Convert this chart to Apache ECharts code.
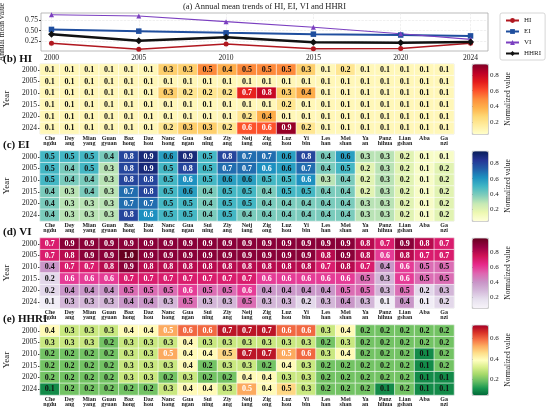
<!DOCTYPE html>
<html>
<head>
<meta charset="utf-8">
<script src="https://cdn.jsdelivr.net/npm/echarts@6/dist/echarts.min.js"></script>
<style>
  html, body { margin: 0; padding: 0; background: #fff; }
  #chart { width: 550px; height: 416px; }
</style>
</head>
<body>
<div id="chart"></div>
<script>
// ---- data ----
const years = ['2000', '2005', '2010', '2015', '2020', '2024'];
const yearNums = [2000, 2005, 2010, 2015, 2020, 2024];
const cities = ['Che\nngdu', 'Dey\nang', 'Mian\nyang', 'Guan\ngyuan', 'Baz\nhong', 'Daz\nhou',
    'Nanc\nhong', 'Gua\nngan', 'Sui\nning', 'Ziy\nang', 'Neij\niang', 'Zig\nong', 'Luz\nhou',
    'Yi\nbin', 'Les\nhan', 'Mei\nshan', 'Ya\nan', 'Panz\nhihua', 'Lian\ngshan', 'Aba', 'Ga\nnzi'];

// (a) annual means
const meanHI = [0.21, 0.07, 0.19, 0.08, 0.09, 0.21];
const meanEI = [0.53, 0.49, 0.45, 0.42, 0.40, 0.38];
const meanVI = [0.87, 0.84, 0.71, 0.58, 0.43, 0.30];
const meanHHRI = [0.42, 0.27, 0.35, 0.23, 0.22, 0.24];
const lineYTicks = [0.25, 0.5, 0.75];

// (b)-(e) one row per year, one value per city
const hiRows = [
    [0.1, 0.1, 0.1, 0.1, 0.1, 0.1, 0.3, 0.3, 0.5, 0.4, 0.5, 0.5, 0.5, 0.3, 0.1, 0.2, 0.1, 0.1, 0.1, 0.1, 0.1],
    [0.1, 0.1, 0.1, 0.1, 0.1, 0.1, 0.1, 0.1, 0.1, 0.1, 0.1, 0.1, 0.1, 0.1, 0.1, 0.1, 0.1, 0.1, 0.1, 0.1, 0.1],
    [0.1, 0.1, 0.1, 0.1, 0.1, 0.1, 0.3, 0.2, 0.2, 0.2, 0.7, 0.8, 0.3, 0.4, 0.1, 0.1, 0.1, 0.1, 0.1, 0.1, 0.1],
    [0.1, 0.1, 0.1, 0.1, 0.1, 0.1, 0.1, 0.1, 0.1, 0.1, 0.1, 0.1, 0.2, 0.1, 0.1, 0.1, 0.1, 0.1, 0.1, 0.1, 0.1],
    [0.1, 0.1, 0.1, 0.1, 0.1, 0.1, 0.1, 0.1, 0.1, 0.1, 0.2, 0.4, 0.1, 0.1, 0.1, 0.1, 0.1, 0.1, 0.1, 0.1, 0.1],
    [0.1, 0.1, 0.1, 0.1, 0.1, 0.1, 0.2, 0.3, 0.3, 0.2, 0.6, 0.6, 0.9, 0.2, 0.1, 0.1, 0.1, 0.1, 0.1, 0.1, 0.1]
];
const eiRows = [
    [0.5, 0.5, 0.5, 0.4, 0.8, 0.9, 0.58, 0.9, 0.5, 0.8, 0.7, 0.7, 0.58, 0.8, 0.4, 0.58, 0.3, 0.3, 0.2, 0.1, 0.1],
    [0.5, 0.4, 0.5, 0.3, 0.8, 0.9, 0.5, 0.8, 0.5, 0.7, 0.7, 0.62, 0.58, 0.7, 0.4, 0.5, 0.2, 0.3, 0.2, 0.1, 0.2],
    [0.5, 0.4, 0.4, 0.3, 0.8, 0.8, 0.5, 0.62, 0.5, 0.58, 0.58, 0.5, 0.5, 0.62, 0.3, 0.4, 0.2, 0.3, 0.2, 0.1, 0.2],
    [0.4, 0.3, 0.4, 0.3, 0.7, 0.8, 0.5, 0.58, 0.4, 0.5, 0.5, 0.4, 0.5, 0.5, 0.4, 0.4, 0.2, 0.3, 0.2, 0.1, 0.2],
    [0.4, 0.3, 0.3, 0.3, 0.7, 0.7, 0.5, 0.5, 0.4, 0.5, 0.5, 0.4, 0.4, 0.4, 0.4, 0.4, 0.3, 0.3, 0.2, 0.1, 0.2],
    [0.4, 0.3, 0.3, 0.3, 0.8, 0.62, 0.5, 0.5, 0.4, 0.5, 0.4, 0.4, 0.4, 0.4, 0.4, 0.4, 0.3, 0.3, 0.2, 0.1, 0.2]
];
const viRows = [
    [0.7, 0.9, 0.9, 0.9, 0.9, 0.9, 0.9, 0.9, 0.9, 0.9, 0.9, 0.9, 0.9, 0.9, 0.9, 0.9, 0.8, 0.7, 0.9, 0.8, 0.7],
    [0.7, 0.8, 0.9, 0.9, 1.0, 0.9, 0.9, 0.9, 0.9, 0.9, 0.9, 0.9, 0.9, 0.9, 0.8, 0.9, 0.8, 0.6, 0.8, 0.7, 0.7],
    [0.4, 0.7, 0.7, 0.8, 0.9, 0.8, 0.8, 0.8, 0.8, 0.8, 0.8, 0.8, 0.8, 0.8, 0.7, 0.8, 0.7, 0.4, 0.6, 0.5, 0.5],
    [0.2, 0.6, 0.6, 0.6, 0.7, 0.7, 0.7, 0.7, 0.7, 0.7, 0.7, 0.6, 0.6, 0.6, 0.6, 0.6, 0.5, 0.3, 0.6, 0.5, 0.5],
    [0.2, 0.4, 0.4, 0.4, 0.5, 0.5, 0.5, 0.6, 0.5, 0.5, 0.6, 0.4, 0.4, 0.4, 0.4, 0.5, 0.5, 0.3, 0.5, 0.2, 0.3],
    [0.1, 0.3, 0.3, 0.3, 0.4, 0.4, 0.3, 0.5, 0.3, 0.3, 0.5, 0.3, 0.3, 0.2, 0.3, 0.4, 0.3, 0.1, 0.4, 0.1, 0.2]
];
const hhriRows = [
    [0.4, 0.3, 0.3, 0.3, 0.4, 0.4, 0.53, 0.6, 0.6, 0.7, 0.7, 0.7, 0.6, 0.6, 0.3, 0.4, 0.2, 0.2, 0.2, 0.2, 0.2],
    [0.3, 0.3, 0.3, 0.2, 0.3, 0.3, 0.3, 0.4, 0.3, 0.3, 0.3, 0.3, 0.3, 0.3, 0.2, 0.3, 0.2, 0.2, 0.2, 0.2, 0.2],
    [0.2, 0.2, 0.2, 0.2, 0.3, 0.3, 0.53, 0.4, 0.4, 0.47, 0.7, 0.7, 0.53, 0.6, 0.3, 0.4, 0.2, 0.2, 0.2, 0.1, 0.2],
    [0.2, 0.2, 0.2, 0.2, 0.3, 0.3, 0.3, 0.4, 0.2, 0.3, 0.3, 0.2, 0.4, 0.3, 0.2, 0.2, 0.2, 0.2, 0.2, 0.1, 0.2],
    [0.2, 0.2, 0.2, 0.2, 0.3, 0.3, 0.2, 0.3, 0.2, 0.2, 0.4, 0.4, 0.3, 0.3, 0.2, 0.2, 0.2, 0.2, 0.2, 0.1, 0.1],
    [0.1, 0.2, 0.2, 0.2, 0.2, 0.2, 0.3, 0.4, 0.4, 0.3, 0.53, 0.4, 0.47, 0.3, 0.2, 0.2, 0.2, 0.1, 0.2, 0.1, 0.1]
];
const cbTicks = [0.2, 0.4, 0.6, 0.8];
const cbTicksHHRI = [0.2, 0.4, 0.6];

// ---- styling ----
const serif = '"Liberation Serif", "Times New Roman", serif';

const YlOrRd = ['#ffffcc', '#ffeda0', '#fed976', '#feb24c', '#fd8d3c', '#fc4e2a', '#e31a1c', '#bd0026', '#800026'];
const YlGnBu = ['#ffffd9', '#edf8b1', '#c7e9b4', '#7fcdbb', '#41b6c4', '#1d91c0', '#225ea8', '#253494', '#081d58'];
const PuRd = ['#f7f4f9', '#e7e1ef', '#d4b9da', '#c994c7', '#df65b0', '#e7298a', '#ce1256', '#980043', '#67001f'];
const RdYlGn_r = ['#006837', '#1a9850', '#66bd63', '#a6d96a', '#d9ef8b', '#ffffbf', '#fee08b', '#fdae61', '#f46d43', '#d73027', '#a50026'];

const lines = [
    {name: 'HI', data: meanHI, color: '#b0171f', symbol: 'circle', size: 5, width: 1.5},
    {name: 'EI', data: meanEI, color: '#1f4e9e', symbol: 'rect', size: 5.5, width: 2},
    {name: 'VI', data: meanVI, color: '#7b3fc0', symbol: 'triangle', size: 5, width: 1.2},
    {name: 'HHRI', data: meanHHRI, color: '#111111', symbol: 'diamond', size: 7, width: 2.5}
];

const panels = [
    {title: '(b) HI', rows: hiRows, cmap: YlOrRd, min: 0.05, max: 0.94, ticks: cbTicks, white: 0.55, top: 64, titleY: 59},
    {title: '(c) EI', rows: eiRows, cmap: YlGnBu, min: 0.05, max: 0.96, ticks: cbTicks, white: 0.6, top: 151, titleY: 145},
    {title: '(d) VI', rows: viRows, cmap: PuRd, min: 0.06, max: 0.98, ticks: cbTicks, white: 0.55, top: 238, titleY: 232},
    {title: '(e) HHRI', rows: hhriRows, cmap: RdYlGn_r, min: 0.05, max: 0.73, ticks: cbTicksHHRI, white: 0.51, top: 325, titleY: 319}
];

const HM_LEFT = 40, HM_WIDTH = 414, HM_HEIGHT = 70;
const CB_LEFT = 472, CB_WIDTH = 16;

const grid = [{left: 41, top: 13, width: 447, height: 38, show: true, borderColor: '#aaa', borderWidth: 0.8, outerBoundsMode: 'none'}];
const xAxis = [{
    type: 'value', gridIndex: 0, min: 1999.4, max: 2025,
    axisLine: {show: false},
    axisTick: {show: false, customValues: yearNums},
    axisLabel: {customValues: yearNums, formatter: v => String(v), fontFamily: serif, fontSize: 7.5, color: '#222', margin: 3},
    splitLine: {show: true, lineStyle: {color: '#e6e6e6', width: 0.6, type: 'dashed'}}
}];
const yAxis = [{
    type: 'value', gridIndex: 0, min: 0.03, max: 0.91,
    name: 'Annual mean value', nameLocation: 'middle', nameGap: 35, nameRotate: 90,
    nameTextStyle: {fontFamily: serif, fontSize: 7.5, color: '#222'},
    axisLine: {show: false},
    axisTick: {show: true, length: 2, customValues: lineYTicks, lineStyle: {color: '#444'}},
    axisLabel: {customValues: lineYTicks, formatter: v => v.toFixed(2), fontFamily: serif, fontSize: 7.5, color: '#222', margin: 3},
    splitLine: {show: true, lineStyle: {color: '#e6e6e6', width: 0.6, type: 'dashed'}}
}];

const series = lines.map(s => ({
    name: s.name, type: 'line', xAxisIndex: 0, yAxisIndex: 0,
    data: yearNums.map((y, i) => [y, s.data[i]]),
    symbol: s.symbol, symbolSize: s.size,
    lineStyle: {width: s.width, color: s.color},
    itemStyle: {color: s.color},
    emphasis: {disabled: true}
}));

const visualMap = [];
const graphic = [{
    type: 'text', x: 264.5, y: 7,
    style: {text: '(a) Annual mean trends of HI, EI, VI and HHRI', font: '8.5px ' + serif, fill: '#222', align: 'center', verticalAlign: 'middle'}
}];

panels.forEach((p, i) => {
    // heatmap grid and axes
    const gi = grid.length;
    grid.push({left: HM_LEFT, top: p.top, width: HM_WIDTH, height: HM_HEIGHT, show: true, borderColor: '#bbb', borderWidth: 0.6, outerBoundsMode: 'none'});
    xAxis.push({
        type: 'category', gridIndex: gi, data: cities,
        axisLine: {show: false}, axisTick: {show: false}, splitArea: {show: false},
        axisLabel: {interval: 0, fontFamily: serif, fontSize: 6, lineHeight: 5, fontWeight: 'bold', color: '#222', margin: 2}
    });
    yAxis.push({
        type: 'category', gridIndex: gi, data: years, inverse: true,
        name: 'Year', nameLocation: 'middle', nameGap: 22, nameRotate: 90,
        nameTextStyle: {fontFamily: serif, fontSize: 9, color: '#222'},
        axisLine: {show: false}, splitArea: {show: false},
        axisTick: {show: true, length: 2, lineStyle: {color: '#444'}, alignWithLabel: true},
        axisLabel: {fontFamily: serif, fontSize: 7.5, color: '#222', margin: 3}
    });
    const axisIdx = xAxis.length - 1;

    const data = [];
    p.rows.forEach((row, yi) => row.forEach((v, xi) => data.push([xi, yi, v])));
    const white = p.white;
    series.push({
        type: 'heatmap', xAxisIndex: axisIdx, yAxisIndex: axisIdx, data: data,
        itemStyle: {borderColor: '#fff', borderWidth: 0.6},
        emphasis: {disabled: true},
        label: {
            show: true,
            formatter: q => (q.value[2] >= white ? '{w|' : '{k|') + q.value[2].toFixed(1) + '}',
            rich: {
                w: {color: '#fff', fontFamily: serif, fontSize: 8, fontWeight: 'bold'},
                k: {color: '#111', fontFamily: serif, fontSize: 8, fontWeight: 'bold'}
            }
        }
    });

    visualMap.push({
        type: 'continuous', seriesIndex: series.length - 1, dimension: 2,
        min: p.min, max: p.max, calculable: false, hoverLink: false,
        orient: 'vertical', left: CB_LEFT, top: p.top,
        itemWidth: CB_WIDTH, itemHeight: HM_HEIGHT, padding: 0,
        borderColor: '#999', borderWidth: 0.6,
        inRange: {color: p.cmap}
    });

    // axis beside the colour bar carries its ticks and the "Normalized value" name
    const ci = grid.length;
    grid.push({left: CB_LEFT, top: p.top, width: CB_WIDTH, height: HM_HEIGHT, outerBoundsMode: 'none'});
    xAxis.push({type: 'value', gridIndex: ci, min: 0, max: 1, show: false});
    yAxis.push({
        type: 'value', gridIndex: ci, position: 'right', min: p.min, max: p.max,
        name: 'Normalized value', nameLocation: 'middle', nameGap: 16, nameRotate: 90,
        nameTextStyle: {fontFamily: serif, fontSize: 7.5, color: '#222'},
        axisLine: {show: false}, splitLine: {show: false},
        axisTick: {show: true, length: 2, customValues: p.ticks, lineStyle: {color: '#444'}},
        axisLabel: {customValues: p.ticks, formatter: v => v.toFixed(1), fontFamily: serif, fontSize: 7, color: '#222', margin: 2}
    });

    graphic.push({
        type: 'text', x: 3, y: p.titleY,
        style: {text: p.title, font: 'bold 11px ' + serif, fill: '#111', verticalAlign: 'middle'}
    });
});

const chart = echarts.init(document.getElementById('chart'));
chart.setOption({
    animation: false,
    backgroundColor: '#fff',
    legend: {
        data: lines.map(s => s.name), orient: 'vertical', left: 500, top: 13,
        itemWidth: 13, itemHeight: 6, itemGap: 4, padding: [4, 4, 3, 5],
        borderColor: '#ccc', borderWidth: 0.8, borderRadius: 2,
        textStyle: {fontFamily: serif, fontSize: 7, color: '#222'}
    },
    grid: grid,
    xAxis: xAxis,
    yAxis: yAxis,
    visualMap: visualMap,
    series: series,
    graphic: graphic
});
</script>
</body>
</html>
